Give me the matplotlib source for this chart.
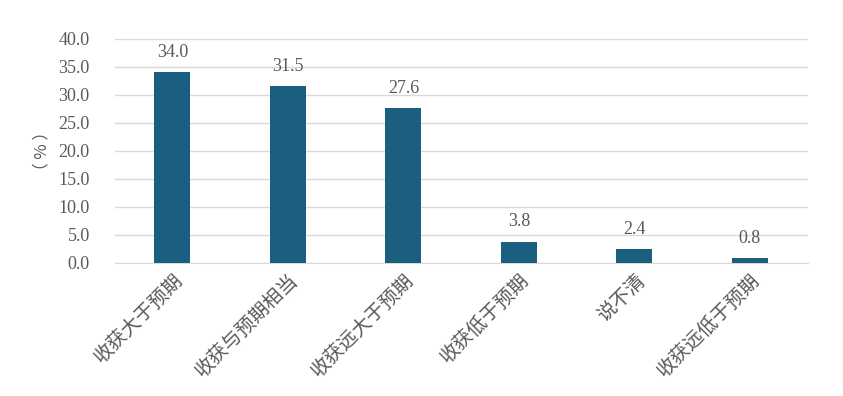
import numpy as np
from matplotlib import pyplot as plt

plt.rcParams['font.family'] = ['Noto Sans CJK SC', 'DejaVu Sans']

# 数据
categories = ["收获大于预期", "收获与预期相当", "收获远大于预期", "收获低于预期", "说不清", "收获远低于预期"]
values = [34.0, 31.5, 27.6, 3.8, 2.4, 0.8]

grey = "#595959"
bar_color = "#1b5f80"

fig = plt.figure(figsize=(8.43, 3.96), dpi=100)
ax = fig.add_axes([0.136, 0.336, 0.822, 0.566])

x = np.arange(len(categories))
ax.bar(x, values, width=0.31, color=bar_color, zorder=3)

for xi, v in zip(x, values):
    ax.text(xi, v + 3.6, "%.1f" % v, ha="center", va="center",
            fontsize=13, color=grey, family="Liberation Serif")

ax.set_xlim(-0.5, len(categories) - 0.5)
ax.set_ylim(0, 40)
ax.set_yticks(np.arange(0, 41, 5))
ax.set_yticklabels(["%.1f" % t for t in np.arange(0, 41, 5)],
                   family="Liberation Serif", fontsize=13, color=grey)
ax.set_xticks(x)
ax.set_xticklabels(categories, rotation=45, ha="right", va="top",
                   rotation_mode="anchor", fontsize=14, color=grey)

ax.grid(axis="y", color="#d9d9d9", linewidth=1, zorder=0)
for s in ["top", "right", "left"]:
    ax.spines[s].set_visible(False)
ax.spines["bottom"].set_color("#d9d9d9")
ax.tick_params(axis="both", length=0)
ax.tick_params(axis="y", pad=18)
ax.tick_params(axis="x", pad=5)

ax.set_ylabel("（ % ）", fontsize=12, color=grey, labelpad=6)

plt.savefig("out.png", dpi=100)
